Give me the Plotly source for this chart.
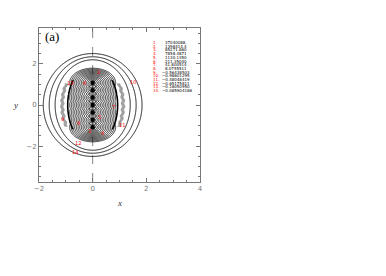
import numpy as np
import plotly.graph_objects as go

# ---------------- data ----------------
x_ticks = [-2, 0, 2, 4]
y_ticks = [-2, 0, 2]
# charges (black dots) along the axis
dot_x = [0, 0, 0, 0, 0, 0, 0]
dot_y = [1.08, 0.72, 0.36, 0.0, -0.36, -0.72, -1.08]
# focal half-length of the outer elliptic field
focus_c = 1.7
# vertical stretch of the near field around the chain
near_stretch = 1.2
# contour levels
inner_levels = dict(start=0.05, end=0.88, size=0.062)
thick_level = [0.93]
band_levels = dict(start=1.09, end=1.18, size=0.03)
ring_levels = dict(start=1.40, end=1.84, size=0.22)
# red contour labels
lab_text = ["2", "13", "6", "10", "7", "9", "8", "5", "3", "4", "11", "12", "14"]
lab_x = [0.21, -0.84, -0.31, 1.49, 0.77, -1.14, -0.54, 0.27, -0.12, 0.36, 1.08, -0.54, -0.66]
lab_y = [1.59, 1.05, 1.05, 1.10, -0.10, -0.70, -0.90, -0.59, -1.28, -1.36, -0.98, -1.85, -2.29]
# legend of contour values
legend_idx = ["1.", "2.", "3.", "4.", "5.", "6.", "7.", "8.", "9.", "10.", "11.", "12.", "13.", "14."]
legend_val = ["37040088.", "1398414.4", "85271.860", "7858.4871", "1130.1350", "211.35040",
              "41.800514", "8.0755511", "\u22120.56438503", "\u22120.98601295", "\u22120.48048419",
              "\u22120.65175811", "\u22120.18050950", "\u22120.085904186"]

# ---------------- fields ----------------
gx = np.linspace(-2.0, 2.0, 201)
gy = np.linspace(-2.7, 2.7, 271)
X, Y = np.meshgrid(gx, gy)
# outer elliptic field
r1 = np.sqrt(X**2 + (Y - focus_c) ** 2)
r2 = np.sqrt(X**2 + (Y + focus_c) ** 2)
s = (r1 + r2) / 2
A = np.sqrt(np.maximum(s**2 - focus_c**2, 0))
# near field: distance to the nearest dot
D = np.full_like(A, np.inf)
for dx, dy in zip(dot_x, dot_y):
    D = np.minimum(D, np.sqrt((X - dx) ** 2 + (near_stretch * (Y - dy)) ** 2))
Zthick = np.where(np.abs(Y) < 1.2, A, np.nan)
Zband = np.where(np.abs(Y) < 1.05, A + 0.02 * np.sin(Y * 2 * np.pi / 0.3), np.nan)

fig = go.Figure()
fig.add_trace(go.Contour(x=gx, y=gy, z=D, contours=dict(coloring="none", **inner_levels),
                         line=dict(color="black", width=0.8), showscale=False, hoverinfo="skip"))
fig.add_trace(go.Contour(x=gx, y=gy, z=A, contours=dict(coloring="none", **ring_levels),
                         line=dict(color="black", width=0.9), showscale=False, hoverinfo="skip"))
fig.add_trace(go.Contour(x=gx, y=gy, z=Zthick,
                         contours=dict(coloring="none", start=thick_level[0], end=thick_level[0], size=1),
                         line=dict(color="black", width=1.6), showscale=False, hoverinfo="skip"))
fig.add_trace(go.Contour(x=gx, y=gy, z=Zband, contours=dict(coloring="none", **band_levels),
                         line=dict(color="#777777", width=0.8), showscale=False, hoverinfo="skip"))
fig.add_trace(go.Scatter(x=dot_x, y=dot_y, mode="markers",
                         marker=dict(color="black", size=4.5), hoverinfo="skip"))

fig.add_shape(type="line", x0=0, x1=0, y0=-3.75, y1=3.75, xref="x", yref="y",
              line=dict(color="#666666", width=0.8, dash="dash"), layer="below")

for t, lx, ly in zip(lab_text, lab_x, lab_y):
    fig.add_annotation(x=lx, y=ly, text=t, showarrow=False, xref="x", yref="y",
                       font=dict(color="red", size=5, family="DejaVu Sans"))

row0, drow = 3.04, 0.18
for i, (idx, val) in enumerate(zip(legend_idx, legend_val)):
    yy = row0 - i * drow
    fig.add_annotation(x=2.16, y=yy, text=idx, showarrow=False, xanchor="left", xref="x", yref="y",
                       font=dict(color="red", size=4, family="DejaVu Sans"))
    xv = 2.52 if val.startswith("\u2212") else 2.62
    fig.add_annotation(x=xv, y=yy, text=val, showarrow=False, xanchor="left", xref="x", yref="y",
                       font=dict(color="black", size=4, family="DejaVu Sans"))

fig.add_annotation(x=-1.53, y=3.33, text="(a)", showarrow=False, xref="x", yref="y",
                   font=dict(color="#000000", size=13, family="Liberation Serif"))
fig.add_annotation(x=0.5, y=0, yshift=-14, xref="paper", yref="paper", text="<i>x</i>",
                   showarrow=False, yanchor="top", font=dict(size=9, family="Liberation Serif", color="#333"))
fig.add_annotation(x=0, y=0.5, xshift=-19, xref="paper", yref="paper", text="<i>y</i>",
                   showarrow=False, xanchor="right", font=dict(size=9, family="Liberation Serif", color="#333"))

axis_common = dict(showgrid=False, zeroline=False, showline=True, linecolor="#777777", linewidth=1,
                   mirror="ticks", ticks="inside", ticklen=4, tickcolor="#777777",
                   tickfont=dict(size=7, color="#777777", family="DejaVu Sans"),
                   minor=dict(dtick=0.5, ticks="inside", ticklen=2, tickcolor="#777777"))
fig.update_xaxes(range=[-2, 4], tickvals=x_ticks, **axis_common)
fig.update_yaxes(range=[-3.75, 3.75], tickvals=y_ticks, **axis_common)

fig.update_layout(width=378, height=268, margin=dict(l=31, r=186, t=20, b=94),
                  paper_bgcolor="white", plot_bgcolor="white", showlegend=False)
fig.write_html("out.html")
